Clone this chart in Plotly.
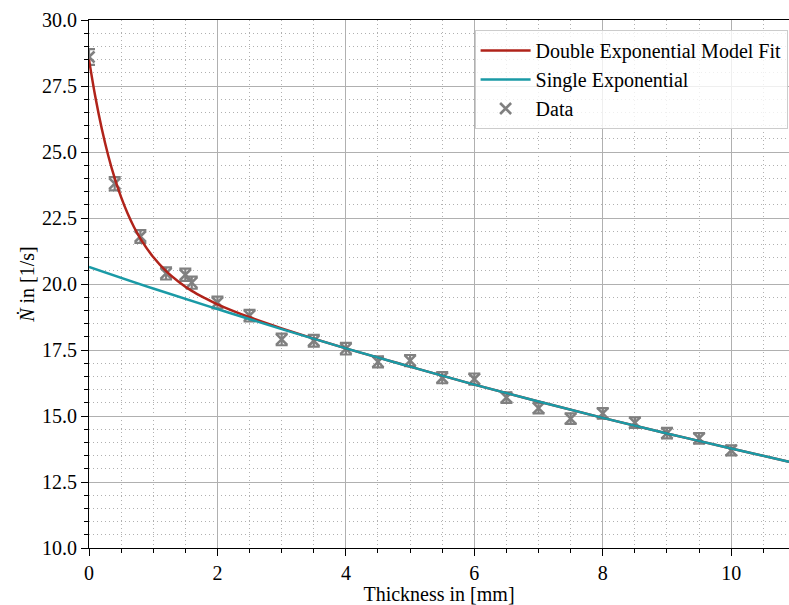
import plotly.graph_objects as go

# Measured data
thickness = [0, 0.4, 0.8, 1.2, 1.5, 1.6, 2, 2.5, 3, 3.5, 4, 4.5, 5, 5.5, 6, 6.5, 7, 7.5, 8, 8.5, 9, 9.5, 10]
rate = [28.6, 23.8, 21.8, 20.4, 20.35, 20.05, 19.3, 18.8, 17.9, 17.85, 17.55, 17.05, 17.1, 16.45, 16.4,
        15.7, 15.3, 14.9, 15.1, 14.75, 14.35, 14.15, 13.7]
rate_err = [0.3, 0.25, 0.24, 0.23, 0.23, 0.23, 0.22, 0.22, 0.22, 0.22, 0.22, 0.21, 0.21, 0.21, 0.21,
            0.2, 0.2, 0.2, 0.2, 0.2, 0.2, 0.2, 0.19]

# Double exponential model fit curve
double_x = [0, 0.1, 0.2, 0.3, 0.4, 0.5, 0.6, 0.7, 0.8, 1.0, 1.2, 1.4, 1.6, 1.8, 2.0, 2.5, 3.0,
            4, 5, 6, 7, 8, 9, 10, 10.9]
double_y = [28.50, 27.07, 25.87, 24.86, 24.01, 23.29, 22.68, 22.16, 21.72, 21.02, 20.49, 20.08, 19.74,
            19.47, 19.23, 18.74, 18.32, 17.56, 16.87, 16.19, 15.55, 14.93, 14.34, 13.77, 13.27]

# Single exponential curve
single_x = [0, 1, 2, 3, 4, 5, 6, 7, 8, 9, 10, 10.9]
single_y = [20.65, 19.83, 19.05, 18.29, 17.56, 16.87, 16.19, 15.55, 14.93, 14.34, 13.77, 13.27]

x_ticks = [0, 2, 4, 6, 8, 10]
y_ticks = [10.0, 12.5, 15.0, 17.5, 20.0, 22.5, 25.0, 27.5, 30.0]

RED = "#B0231A"
TEAL = "#1A9AA6"
GREY = "#808080"
GRID = "#b0b0b0"
FONT = "Liberation Serif, Times New Roman, Times, serif"

fig = go.Figure()

fig.add_trace(go.Scatter(
    x=thickness, y=rate, mode="markers", name="Data", legendrank=3,
    marker=dict(symbol="x-thin", size=11, color=GREY, line=dict(color=GREY, width=2.6)),
    error_y=dict(type="data", array=rate_err, visible=True, color=GREY, thickness=2.2, width=6),
))
fig.add_trace(go.Scatter(
    x=double_x, y=double_y, mode="lines", name="Double Exponential Model Fit", legendrank=1,
    line=dict(color=RED, width=2.5, shape="spline", smoothing=1.0),
))
fig.add_trace(go.Scatter(
    x=single_x, y=single_y, mode="lines", name="Single Exponential", legendrank=2,
    line=dict(color=TEAL, width=2.5, shape="spline", smoothing=1.0),
))

axis_common = dict(
    showline=True, linecolor="black", linewidth=1.25,
    ticks="outside", ticklen=7, tickwidth=1, tickcolor="black",
    showgrid=True, gridcolor=GRID, gridwidth=1,
    zeroline=False,
    tickfont=dict(family=FONT, size=20, color="black"),
)

minor_common = dict(showgrid=True, griddash="1px,3px", gridcolor=GRID, gridwidth=1,
                    ticks="outside", ticklen=4, tickcolor="black", tickwidth=1)

fig.update_xaxes(
    range=[0, 10.9], tickvals=x_ticks, ticktext=[str(v) for v in x_ticks], mirror=True,
    title=dict(text="Thickness in [mm]", font=dict(family=FONT, size=20, color="black"), standoff=8),
    minor=dict(dtick=0.5, tick0=0, **minor_common),
    **axis_common,
)
fig.update_yaxes(
    range=[10, 30], tickvals=y_ticks, ticktext=[f"{v:.1f}" for v in y_ticks],
    title=dict(text="<i>Ṅ</i> in [1/s]", font=dict(family=FONT, size=20, color="black"), standoff=1),
    minor=dict(dtick=0.5, tick0=10, **minor_common),
    **axis_common,
)

fig.update_layout(
    width=789, height=605,
    margin=dict(l=89, r=0, t=20, b=57, pad=0),
    plot_bgcolor="white", paper_bgcolor="white",
    font=dict(family=FONT, size=20, color="black"),
    legend=dict(
        x=0.998, y=0.981, xanchor="right", yanchor="top",
        bgcolor="rgba(255,255,255,0.8)", bordercolor="#cccccc", borderwidth=1,
        font=dict(family=FONT, size=20, color="black"),
        traceorder="normal", tracegroupgap=0, itemwidth=50,
    ),
    showlegend=True,
)

fig.write_html("out.html")
